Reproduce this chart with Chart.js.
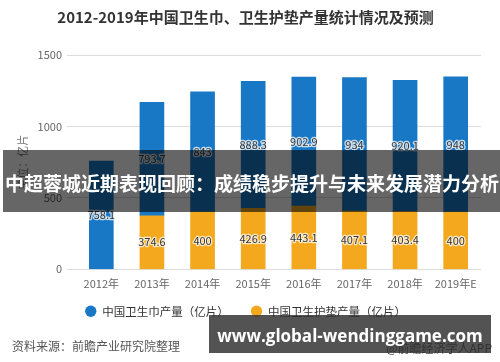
<!DOCTYPE html>
<html>
<head>
<meta charset="utf-8">
<script src="https://cdn.jsdelivr.net/npm/chart.js@4/dist/chart.umd.min.js"></script>
<style>
  body { margin: 0; background: #fff; }
  #wrap { position: relative; width: 500px; height: 362px; overflow: hidden; font-family: "Noto Sans CJK SC", sans-serif; }
  #c { position: absolute; left: 0; top: 0; }
  .src { position: absolute; left: 12px; top: 337px; font-size: 12px; color: #555; }
  .app { position: absolute; right: 8px; top: 339px; font-size: 12px; color: #444; }
  .banner { position: absolute; left: 3px; right: 0; top: 150px; height: 62px; background: rgba(0,0,0,0.6);
            color: #fff; font-weight: bold; font-size: 19px; line-height: 66px; white-space: nowrap; padding-left: 2px; }
  .site { position: absolute; left: 209px; top: 315px; width: 282px; height: 38px; background: rgba(45,45,45,0.82);
          color: #fff; font-family: "Open Sans", sans-serif; font-weight: bold; font-size: 17px; line-height: 42px; text-align: center; white-space: nowrap; }
</style>
</head>
<body>
<div id="wrap">
  <canvas id="c" width="500" height="362"></canvas>
  <div class="src">资料来源：前瞻产业研究院整理</div>
  <div class="app">@前瞻经济学人APP</div>
  <div class="banner">中超蓉城近期表现回顾：成绩稳步提升与未来发展潜力分析</div>
  <div class="site">www.global-wendinggame.com</div>
</div>
<script>
// 2012-2019 production, 亿片
const years = ["2012年", "2013年", "2014年", "2015年", "2016年", "2017年", "2018年", "2019年E"];
const napkinOutput = [758.1, 793.7, 843, 888.3, 902.9, 934, 920.1, 948];
const pantilinerOutput = [null, 374.6, 400, 426.9, 443.1, 407.1, 403.4, 400];
const yTicks = [0, 500, 1000, 1500];

const BLUE = "#1878c6";
const ORANGE = "#f3a81e";

// numbers in the middle of each bar segment
const valueLabels = {
  id: "valueLabels",
  afterDatasetsDraw(chart) {
    const ctx = chart.ctx;
    ctx.save();
    ctx.font = '11px "Noto Sans CJK SC"';
    ctx.textAlign = "center";
    ctx.textBaseline = "middle";
    ctx.lineJoin = "round";
    chart.data.datasets.forEach((ds, i) => {
      chart.getDatasetMeta(i).data.forEach((bar, j) => {
        const v = ds.data[j];
        if (v == null) return;
        const y = (bar.y + bar.base) / 2;
        ctx.strokeStyle = "rgba(255,255,255,0.75)";
        ctx.lineWidth = 2.5;
        ctx.strokeText(String(v), bar.x, y);
        ctx.fillStyle = "#333";
        ctx.fillText(String(v), bar.x, y);
      });
    });
    ctx.restore();
  }
};

// pull the legend a little closer to the axis labels
const legendNudge = {
  id: "legendNudge",
  afterLayout(chart) {
    chart.legend.top -= 15;
    chart.legend.bottom -= 15;
  }
};

Chart.defaults.font.family = '"Noto Sans CJK SC", sans-serif';

new Chart(document.getElementById("c").getContext("2d"), {
  type: "bar",
  data: {
    labels: years,
    datasets: [
      {
        label: "中国卫生护垫产量（亿片）",
        data: pantilinerOutput,
        backgroundColor: ORANGE,
        barThickness: 24
      },
      {
        label: "中国卫生巾产量（亿片）",
        data: napkinOutput,
        backgroundColor: BLUE,
        barThickness: 24
      }
    ]
  },
  options: {
    responsive: false,
    devicePixelRatio: 1,
    animation: false,
    layout: { padding: { left: 10, right: 19, top: 0, bottom: 20 } },
    plugins: {
      title: {
        display: true,
        text: "2012-2019年中国卫生巾、卫生护垫产量统计情况及预测",
        color: "#333",
        font: { size: 15, weight: "bold" },
        padding: { top: 8, bottom: 29 }
      },
      legend: {
        position: "bottom",
        reverse: true,
        labels: {
          usePointStyle: true,
          pointStyle: "circle",
          boxWidth: 12,
          boxHeight: 8,
          padding: 22,
          color: "#333",
          font: { size: 11.5 }
        }
      },
      tooltip: { enabled: false }
    },
    scales: {
      x: {
        stacked: true,
        grid: { display: false, drawTicks: false },
        border: { display: false },
        ticks: { color: "#666", font: { size: 11 }, padding: 8, maxRotation: 0 }
      },
      y: {
        stacked: true,
        min: 0,
        max: 1500,
        afterFit: (s) => { s.width = 66; },
        afterBuildTicks: (s) => { s.ticks = yTicks.map((v) => ({ value: v })); },
        grid: { color: "#dcdcdc", tickLength: 9 },
        border: { display: false },
        ticks: { color: "#666", font: { size: 11 }, padding: 5, callback: (v) => String(v) },
        title: { display: true, text: "单位：亿片", color: "#777", font: { size: 11 }, padding: { top: 6 } }
      }
    }
  },
  plugins: [valueLabels, legendNudge]
});
</script>
</body>
</html>
